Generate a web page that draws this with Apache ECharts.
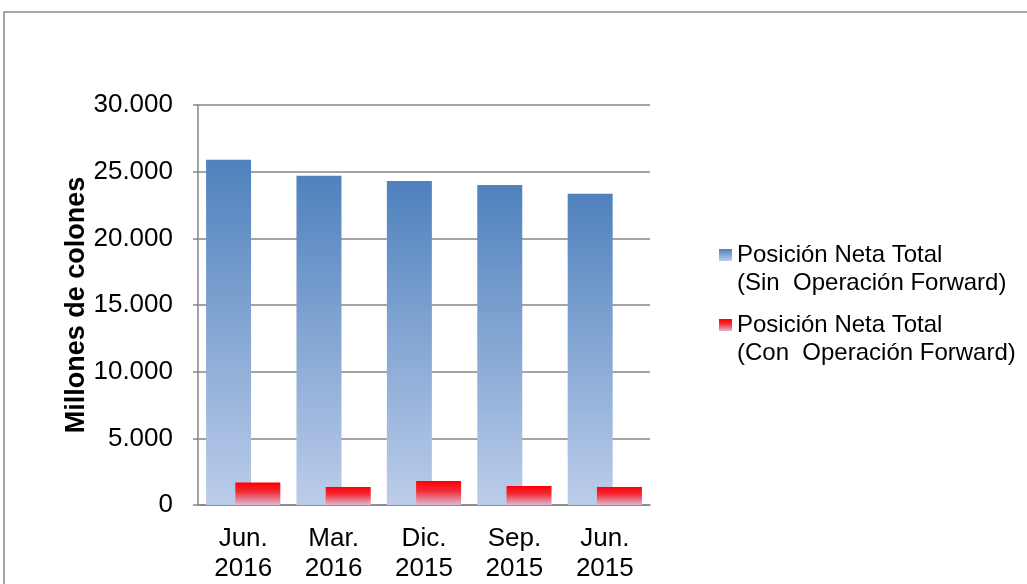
<!DOCTYPE html>
<html>
<head>
<meta charset="utf-8">
<title>Posición Neta Total</title>
<script src="https://cdn.jsdelivr.net/npm/echarts@6/dist/echarts.min.js"></script>
<style>
  html, body { margin: 0; padding: 0; background: #ffffff; }
  #chart { width: 1027px; height: 584px; }
</style>
</head>
<body>
<div id="chart"></div>
<script>
// Periods, most recent first
const categories = ['Jun.\n2016', 'Mar.\n2016', 'Dic.\n2015', 'Sep.\n2015', 'Jun.\n2015'];
// Millones de colones
const sinForward = [25900, 24700, 24300, 24000, 23350];
const conForward = [1680, 1350, 1800, 1420, 1350];
const seriesNames = ['Posición Neta Total\n(Sin  Operación Forward)', 'Posición Neta Total\n(Con  Operación Forward)'];
const yTicks = { min: 0, max: 30000, interval: 5000 };

const FONT = '"Liberation Sans", Arial, sans-serif';
const GRAY = '#868686';

function thousands(v) {
  return String(v).replace(/\B(?=(\d{3})+(?!\d))/g, '.');
}

const blueFill = new echarts.graphic.LinearGradient(0, 0, 0, 1, [
  { offset: 0, color: '#4f81bd' },
  { offset: 1, color: '#bccdea' }
]);
const redFill = new echarts.graphic.LinearGradient(0, 0, 0, 1, [
  { offset: 0, color: '#ff0000' },
  { offset: 0.4, color: '#f22a36' },
  { offset: 1, color: '#dcb8d0' }
]);

const chart = echarts.init(document.getElementById('chart'), null, { renderer: 'canvas' });

chart.setOption({
  backgroundColor: '#ffffff',
  animation: false,
  textStyle: { fontFamily: FONT },
  graphic: [{
    type: 'rect',
    shape: { x: 4, y: 12, width: 1200, height: 800 },
    style: { fill: 'none', stroke: '#8a8a8a', lineWidth: 1.5 },
    silent: true
  }],
  grid: { left: 198, right: 377, top: 105, bottom: 78, containLabel: false },
  legend: {
    orient: 'vertical',
    left: 719,
    top: 213,
    padding: 0,
    itemGap: -14,
    itemWidth: 13,
    itemHeight: 12,
    icon: 'rect',
    selectedMode: false,
    // leading blank line keeps the marker beside the first line of each name
    formatter: function (name) { return '\n' + name; },
    textStyle: {
      fontFamily: FONT,
      fontSize: 24,
      color: '#000000',
      lineHeight: 28
    },
    data: seriesNames
  },
  xAxis: {
    type: 'category',
    data: categories,
    axisLine: { show: true, lineStyle: { color: GRAY, width: 1.5 } },
    axisTick: { show: false },
    axisLabel: {
      interval: 0,
      margin: 19,
      fontFamily: FONT,
      fontSize: 26,
      lineHeight: 30,
      color: '#000000'
    }
  },
  yAxis: {
    type: 'value',
    min: yTicks.min,
    max: yTicks.max,
    interval: yTicks.interval,
    name: 'Millones de colones',
    nameLocation: 'middle',
    nameRotate: 90,
    nameGap: 108,
    nameTextStyle: { fontFamily: FONT, fontSize: 27, fontWeight: 'bold', color: '#000000' },
    axisLine: { show: true, lineStyle: { color: GRAY, width: 1.5 } },
    axisTick: { show: true, length: 5, lineStyle: { color: GRAY, width: 1.5 } },
    splitLine: { show: true, lineStyle: { color: GRAY, width: 1.5 } },
    axisLabel: {
      margin: 25,
      fontFamily: FONT,
      fontSize: 26,
      color: '#000000',
      formatter: thousands
    }
  },
  series: [
    {
      name: seriesNames[0],
      type: 'bar',
      data: sinForward,
      barWidth: 45,
      barGap: '-35%',
      itemStyle: { color: blueFill }
    },
    {
      name: seriesNames[1],
      type: 'bar',
      data: conForward,
      barWidth: 45,
      barGap: '-35%',
      itemStyle: { color: redFill }
    }
  ]
});
</script>
</body>
</html>
